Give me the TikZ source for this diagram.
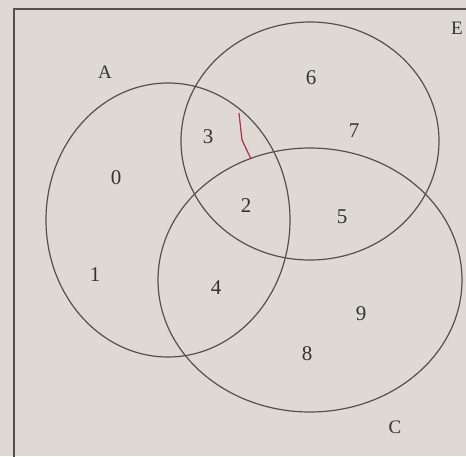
\documentclass[tikz,border=0pt]{standalone}
\usepackage{fontspec}
\setmainfont{Liberation Serif}
\usepackage{tikz}
\usetikzlibrary{positioning}
\definecolor{PaperGray}{RGB}{222,217,211}
\definecolor{PencilGray}{RGB}{85,80,80}
\definecolor{InkRed}{RGB}{175,45,70}
\tikzset{
  setline/.style={draw=PencilGray, line width=1.2pt},
  framebox/.style={draw=PencilGray, line width=1.2pt},
  elem/.style={font=\fontsize{21}{24}\selectfont, text=black!80, inner sep=1pt},
  setname/.style={elem, font=\fontsize{19}{22}\selectfont}
}
\begin{document}
\begin{tikzpicture}[x=1pt, y=-1pt]
  \useasboundingbox (0,0) rectangle (466,456);
  \clip (0,0) rectangle (466,456);
  \fill[PaperGray] (0,0) rectangle (466,456);

  % universal set frame, cut off on the right and bottom
  \draw[framebox] (14,480) -- (14,9) -- (480,9);

  % the three sets
  \draw[setline] (168,220) ellipse [x radius=122pt, y radius=137pt];
  \draw[setline] (310,141) ellipse [x radius=129pt, y radius=119pt];
  \draw[setline] (310,280) ellipse [x radius=152pt, y radius=132pt];

  % set labels
  \node[setname] (lblA) at (105,72) {A};
  \node[setname] (lblE) at (457,28) {E};
  \node[setname] (lblC) at (395,427) {C};

  % elements
  \node[elem] (n6) at (311,78) {6};
  \node[elem] (n7) at (354,131) {7};
  \node[elem] (n3) at (208,137) {3};
  \node[elem] (n0) at (116,178) {0};
  \node[elem] (n2) at (246,206) {2};
  \node[elem] (n5) at (342,217) {5};
  \node[elem] (n1) at (95,275) {1};
  \node[elem] (n4) at (216,288) {4};
  \node[elem] (n9) at (361,314) {9};
  \node[elem] (n8) at (307,354) {8};

  % red pen mark
  \draw[InkRed, line width=1.2pt, line join=round] (239,113) -- (242,140) -- (251,159);
\end{tikzpicture}
\end{document}
